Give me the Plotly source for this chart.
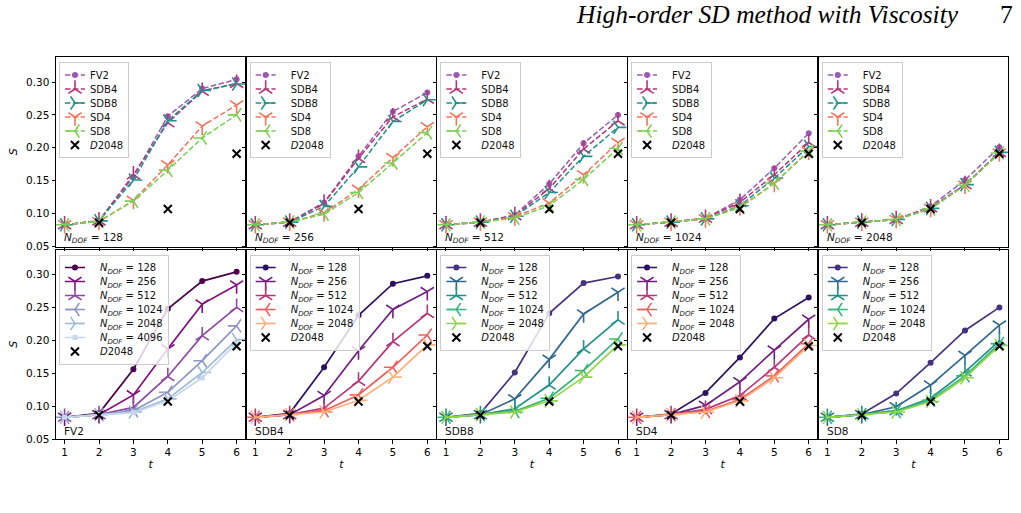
import plotly.graph_objects as go
from plotly.subplots import make_subplots

# ---------------- data ----------------
T = [1, 2, 3, 4, 5, 6]
SOLVERS = ["FV2", "SDB4", "SDB8", "SD4", "SD8"]
NDOF = [128, 256, 512, 1024, 2048]
NDOF_FV2 = [128, 256, 512, 1024, 2048, 4096]

# rows follow NDOF (FV2 follows NDOF_FV2), columns follow T
S_FV2 = [
    [0.083, 0.089, 0.156, 0.248, 0.290, 0.304],
    [0.083, 0.087, 0.117, 0.187, 0.255, 0.284],
    [0.083, 0.087, 0.098, 0.145, 0.207, 0.250],
    [0.083, 0.087, 0.093, 0.121, 0.169, 0.222],
    [0.083, 0.087, 0.091, 0.111, 0.151, 0.201],
    [0.083, 0.087, 0.090, 0.108, 0.143, 0.196],
]
S_SDB4 = [
    [0.083, 0.089, 0.159, 0.238, 0.286, 0.298],
    [0.083, 0.087, 0.116, 0.184, 0.247, 0.274],
    [0.083, 0.087, 0.097, 0.138, 0.198, 0.241],
    [0.083, 0.087, 0.093, 0.117, 0.159, 0.208],
    [0.083, 0.087, 0.091, 0.109, 0.144, 0.193],
]
S_SDB8 = [
    [0.083, 0.089, 0.151, 0.241, 0.287, 0.297],
    [0.083, 0.087, 0.111, 0.171, 0.240, 0.273],
    [0.083, 0.087, 0.096, 0.132, 0.187, 0.231],
    [0.083, 0.087, 0.092, 0.112, 0.154, 0.202],
    [0.083, 0.087, 0.091, 0.108, 0.144, 0.193],
]
S_SD4 = [
    [0.083, 0.088, 0.120, 0.174, 0.233, 0.265],
    [0.083, 0.087, 0.101, 0.137, 0.185, 0.232],
    [0.083, 0.087, 0.095, 0.116, 0.159, 0.208],
    [0.083, 0.087, 0.092, 0.110, 0.146, 0.195],
    [0.083, 0.087, 0.091, 0.108, 0.143, 0.192],
]
S_SD8 = [
    [0.083, 0.088, 0.119, 0.166, 0.215, 0.250],
    [0.083, 0.087, 0.099, 0.132, 0.177, 0.223],
    [0.083, 0.087, 0.093, 0.112, 0.152, 0.199],
    [0.083, 0.087, 0.092, 0.109, 0.146, 0.195],
    [0.083, 0.087, 0.091, 0.107, 0.143, 0.192],
]
D2048_T = [2, 4, 6]
D2048_S = [0.086, 0.107, 0.191]

Y_TICKS = [0.05, 0.10, 0.15, 0.20, 0.25, 0.30]

# ---------------- styles ----------------
DATA = {"FV2": S_FV2, "SDB4": S_SDB4, "SDB8": S_SDB8, "SD4": S_SD4, "SD8": S_SD8}
NLIST = {"FV2": NDOF_FV2, "SDB4": NDOF, "SDB8": NDOF, "SD4": NDOF, "SD8": NDOF}
TOP_COLORS = {"FV2": "#9b59b6", "SDB4": "#b5367a", "SDB8": "#21918c",
              "SD4": "#f7735c", "SD8": "#7ad151"}
TOP_SYMBOLS = {"FV2": "circle", "SDB4": "y-up", "SDB8": "y-right",
               "SD4": "y-down", "SD8": "y-left"}
N_SYMBOLS = ["circle", "y-down", "y-up", "y-left", "y-right", "square"]
MAGMA = ["#2d1160", "#721f81", "#b5367a", "#f1605d", "#feaf77"]
VIRIDIS = ["#46327e", "#31688e", "#21918c", "#35b779", "#90d743"]
BUPU = ["#4d004b", "#810f7c", "#8f4aa6", "#8c96c6", "#9ebcda", "#c6d7ea"]
BOTTOM_COLORS = {"FV2": BUPU, "SDB4": MAGMA, "SDB8": VIRIDIS, "SD4": MAGMA, "SD8": VIRIDIS}

FONT = "DejaVu Sans"


def marker_for(sym, color):
    if sym == "circle":
        return dict(symbol="circle", size=6, color=color, line=dict(width=0))
    if sym == "square":
        return dict(symbol="square", size=5, color=color, line=dict(width=0))
    return dict(symbol=sym, size=11, color=color, line=dict(width=1.6, color=color))


def nlabel(n):
    return "<i>N</i><sub><i>DOF</i></sub> = %d" % n


fig = make_subplots(rows=2, cols=5, horizontal_spacing=1.5 / 961,
                    vertical_spacing=3 / 382)


def legend_key(i):
    return "legend" if i == 0 else "legend%d" % (i + 1)


def add_ref(row, col, i):
    fig.add_trace(go.Scatter(
        x=D2048_T, y=D2048_S, mode="markers", name="<i>D</i>2048",
        marker=dict(symbol="x-thin", size=8, color="black",
                    line=dict(width=2, color="black")),
        legend=legend_key(i)), row=row, col=col)


# top row: one panel per N_DOF, all solvers dashed
for c, n in enumerate(NDOF):
    i = c
    for s in SOLVERS:
        idx = NLIST[s].index(n)
        col = TOP_COLORS[s]
        fig.add_trace(go.Scatter(
            x=T, y=DATA[s][idx], mode="lines+markers", name=s,
            line=dict(color=col, width=1.5, dash="5.5px,2.4px"),
            marker=marker_for(TOP_SYMBOLS[s], col),
            legend=legend_key(i)), row=1, col=c + 1)
    add_ref(1, c + 1, i)

# bottom row: one panel per solver, all N_DOF solid
for c, s in enumerate(SOLVERS):
    i = 5 + c
    for k, n in enumerate(NLIST[s]):
        col = BOTTOM_COLORS[s][k]
        fig.add_trace(go.Scatter(
            x=T, y=DATA[s][k], mode="lines+markers", name=nlabel(n),
            line=dict(color=col, width=1.7),
            marker=marker_for(N_SYMBOLS[k], col),
            legend=legend_key(i)), row=2, col=c + 1)
    add_ref(2, c + 1, i)

# axes
axis_common = dict(showline=True, mirror=True, linecolor="black", linewidth=1,
                   ticks="outside", ticklen=3.5, tickwidth=0.8, tickcolor="black",
                   showgrid=False, zeroline=False,
                   tickfont=dict(family=FONT, size=10.5, color="black"))
layout_updates = {}
annotations = []
for i in range(10):
    r, c = divmod(i, 5)
    xa = fig.get_subplot(r + 1, c + 1).xaxis
    ya = fig.get_subplot(r + 1, c + 1).yaxis
    xa.update(axis_common, range=[0.75, 6.25], tickvals=T,
              showticklabels=(r == 1))
    ya.update(axis_common, range=[0.05, 0.338], tickvals=Y_TICKS,
              ticktext=["%.2f" % v for v in Y_TICKS], showticklabels=(c == 0))
    if c == 0:
        ya.update(title=dict(text="<i>S</i>", standoff=6,
                             font=dict(family=FONT, size=11, color="black")))
    if r == 1:
        xa.update(title=dict(text="<i>t</i>", standoff=3,
                             font=dict(family=FONT, size=11, color="black")))
    xd = xa.domain
    yd = ya.domain
    layout_updates[legend_key(i)] = dict(
        x=xd[0] + 3 / 961, y=yd[1] - 5 / 382, xanchor="left", yanchor="top",
        bgcolor="rgba(255,255,255,0.8)", bordercolor="#cccccc", borderwidth=1,
        font=dict(family=FONT, size=10, color="#111111"),
        itemwidth=30, tracegroupgap=0)
    xname = xa.plotly_name.replace("axis", "")
    yname = ya.plotly_name.replace("axis", "")
    label = nlabel(NDOF[c]) if r == 0 else SOLVERS[c]
    annotations.append(dict(
        text=label, xref=xname + " domain", yref=yname + " domain",
        x=6 / 191, y=0.0, xanchor="left", yanchor="bottom", showarrow=False,
        font=dict(family=FONT, size=10.5, color="#111111")))

annotations.append(dict(
    text="<i>High-order SD method with Viscosity</i>", xref="paper", yref="paper",
    x=(962 - 48) / 961, y=(439 - 14) / 382, xanchor="right", yanchor="middle",
    showarrow=False, font=dict(family="Liberation Serif", size=25.5, color="black")))
annotations.append(dict(
    text="7", xref="paper", yref="paper",
    x=(1007 - 48) / 961, y=(439 - 14) / 382, xanchor="center", yanchor="middle",
    showarrow=False, font=dict(family="Liberation Serif", size=25.5, color="black")))

fig.update_layout(
    width=1021, height=513,
    margin=dict(l=48, r=12, t=57, b=74),
    paper_bgcolor="white", plot_bgcolor="white",
    annotations=annotations,
    font=dict(family=FONT, color="black"),
    **layout_updates,
)

# tighten legend rows and handles to the compact spacing of the reference
POST = r"""
(function(){
  var gd = document.getElementById('{plot_id}');
  if(!gd) return;
  var STEP = 14, DX = 10, RPAD = 5;
  var re = /translate\(\s*([-\d.e]+)[ ,]+([-\d.e]+)\s*\)/;
  var groups = gd.querySelectorAll('g.infolayer > g');
  groups.forEach(function(lg){
    var cls = lg.getAttribute('class') || '';
    if(!/^legend\d*$/.test(cls)) return;
    var items = Array.prototype.slice.call(lg.querySelectorAll('g.traces'));
    if(items.length < 2) return;
    var pos = items.map(function(it){
      var m = re.exec(it.getAttribute('transform') || '');
      return m ? [parseFloat(m[1]), parseFloat(m[2])] : null;
    });
    if(pos.some(function(p){ return p === null; })) return;
    var oldStep = pos[1][1] - pos[0][1];
    if(!(oldStep > STEP)) return;
    var shift = (oldStep - STEP) / 2;
    var right = 0;
    items.forEach(function(it, k){
      it.setAttribute('transform', 'translate(' + pos[k][0] + ',' + (pos[0][1] - shift + k * STEP) + ')');
      it.querySelectorAll('g.legendlines path').forEach(function(p){
        var d = p.getAttribute('d') || '';
        var m = /^M([-\d.e]+),([-\d.e]+)h([-\d.e]+)$/.exec(d);
        if(m){ p.setAttribute('d', 'M' + m[1] + ',' + m[2] + 'h' + (parseFloat(m[3]) - DX)); }
      });
      it.querySelectorAll('g.legendsymbols path.scatterpts').forEach(function(p){
        var m = re.exec(p.getAttribute('transform') || '');
        if(m){ p.setAttribute('transform', 'translate(' + (parseFloat(m[1]) - DX / 2) + ',' + m[2] + ')'); }
      });
      var txt = it.querySelector('text.legendtext');
      if(txt){
        var tx = parseFloat(txt.getAttribute('x'));
        if(!isNaN(tx)) txt.setAttribute('x', tx - DX);
        txt.querySelectorAll('tspan.line').forEach(function(ts){
          var sx = parseFloat(ts.getAttribute('x'));
          if(!isNaN(sx)) ts.setAttribute('x', sx - DX);
        });
        try {
          var bb = txt.getBBox();
          right = Math.max(right, pos[k][0] + bb.x + bb.width);
        } catch(e) {}
      }
    });
    var bg = lg.querySelector('rect.bg');
    if(bg){
      var h = parseFloat(bg.getAttribute('height'));
      bg.setAttribute('height', h - items.length * (oldStep - STEP));
      var bx = parseFloat(bg.getAttribute('x')) || 0;
      var w = parseFloat(bg.getAttribute('width'));
      if(right > 0){
        var nw = right - bx + RPAD;
        if(nw < w) bg.setAttribute('width', nw);
      }
    }
  });
})();
"""

fig.write_html("out.html", post_script=POST)
